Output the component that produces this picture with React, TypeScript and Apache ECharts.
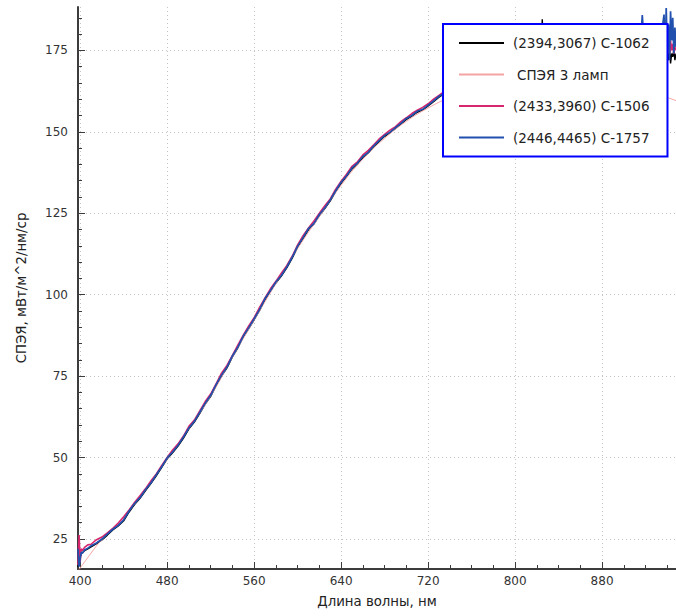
import React, { useEffect, useRef } from 'react';
import * as echarts from 'echarts';

// Wavelengths (nm) shared by the three measured series
const wavelengths = [
  398, 399, 400, 401, 402, 404, 407, 410,
  415, 420, 425, 430, 435, 440, 445, 450, 455, 460,
  465, 470, 475, 480, 485, 490, 495, 500, 505, 510,
  515, 520, 525, 530, 535, 540, 545, 550, 555, 560,
  565, 570, 575, 580, 585, 590, 595, 600, 605, 610,
  615, 620, 625, 630, 635, 640, 645, 650, 655, 660,
  665, 670, 675, 680, 685, 690, 695, 700, 705, 710,
  715, 720, 725, 730, 735, 740,
  750, 760, 770, 780, 790, 800, 810, 820,
  824, 825, 826,
  830, 840, 850, 860, 870, 880, 890, 900, 910,
  914, 916, 917, 918, 920,
  925, 930, 935,
  937, 938, 939, 940, 941, 942, 943, 944, 945, 946, 947, 948,
];

const seriesC1062 = [
  16.5, 19, 20, 20.6, 20.8, 21.4, 22, 22.6,
  23.6, 24.7, 26.2, 27.8, 29.0, 30.6, 33.3, 35.6, 37.5, 39.8,
  42.0, 44.4, 47.0, 49.6, 51.5, 53.5, 56.0, 58.8, 60.9, 63.6,
  66.4, 68.8, 72.1, 75.0, 77.5, 80.9, 83.7, 87.0, 89.6, 92.3,
  95.2, 98.5, 101.1, 103.6, 105.7, 108.2, 111.2, 114.6, 117.2, 120.0,
  121.7, 124.3, 126.4, 128.8, 131.6, 134.2, 136.3, 138.6, 140.1, 142.1,
  143.5, 145.4, 147.0, 148.6, 149.7, 151.0, 152.4, 153.8, 154.8, 156.0,
  156.7, 157.9, 159.2, 160.6, 161.7, 162.7,
  164.4, 166.1, 167.7, 169.1, 170.5, 171.8, 173.0, 174.2,
  174.7, 184.5, 174.9,
  175.1, 176.0, 176.8, 177.6, 178.1, 178.7, 179.1, 179.3, 179.7,
  179.9, 180.0, 180.1, 180.1, 179.9,
  180.2, 180.5, 180.7,
  172, 175, 171, 174, 172, 176, 171, 174, 173, 175, 172, 174,
];

const seriesC1506 = [
  17, 26.2, 18, 22, 21.5, 22.4, 23.2, 23.4,
  24.8, 25.6, 26.9, 28.3, 29.9, 31.8, 33.9, 36.2, 38.3, 40.4,
  42.8, 45.0, 47.6, 50.0, 52.3, 54.2, 56.6, 59.6, 61.5, 64.3,
  67.2, 69.5, 72.6, 75.9, 78.3, 81.4, 84.5, 87.6, 90.4, 92.9,
  96.1, 99.0, 101.8, 104.1, 106.6, 108.9, 111.8, 115.3, 118.1, 120.5,
  122.6, 125.0, 127.3, 129.4, 132.4, 134.8, 137.0, 139.4, 140.8, 142.9,
  144.3, 146.0, 147.8, 149.2, 150.5, 151.6, 153.1, 154.3, 155.6, 156.6,
  157.5, 158.6, 160.0, 161.2, 162.4, 163.3,
  165.1, 166.8, 168.5, 169.8, 171.2, 172.6, 173.7, 174.9,
  175.3, 175.4, 175.6,
  175.8, 176.7, 177.5, 178.3, 178.9, 179.4, 179.8, 180.1, 180.4,
  180.6, 180.7, 180.8, 180.8, 180.6,
  180.9, 181.2, 181.4,
  177, 174, 178, 175, 177, 174, 178, 175, 177, 174, 176, 175,
];

const seriesC1757 = [
  22, 16.5, 19, 21, 20.6, 21.6, 22.2, 22.9,
  23.8, 25.0, 26.5, 28.0, 29.2, 30.9, 33.6, 35.9, 37.7, 40.1,
  42.2, 44.7, 47.2, 49.9, 51.7, 53.8, 56.3, 59.1, 61.1, 63.9,
  66.7, 69.1, 72.4, 75.3, 77.8, 81.2, 83.9, 87.3, 89.9, 92.6,
  95.5, 98.8, 101.3, 103.9, 105.9, 108.5, 111.5, 114.9, 117.5, 120.3,
  121.9, 124.6, 126.7, 129.1, 131.9, 134.5, 136.5, 138.9, 140.4, 142.4,
  143.7, 145.7, 147.3, 148.9, 149.9, 151.3, 152.6, 154.1, 155.0, 156.3,
  156.9, 158.2, 159.5, 160.9, 161.9, 163.0,
  164.7, 166.4, 168.0, 169.4, 170.8, 172.1, 173.3, 174.5,
  174.9, 175.0, 175.1,
  175.4, 176.3, 177.1, 177.9, 178.4, 179.0, 179.4, 179.6, 180.0,
  180.2, 180.3, 185.8, 180.4, 180.2,
  180.5, 180.8, 181.0,
  186, 172, 188, 175, 183, 172, 187, 178, 185, 174, 182, 176,
];

// Reference curve "СПЭЯ 3 ламп"
const refWavelengths = [
  398, 405, 410, 415, 420, 430, 440, 460, 480, 500, 520, 540, 560, 580,
  600, 620, 640, 660, 680, 700, 720, 740, 760, 780, 800, 820, 840, 860,
  880, 900, 920, 940, 950,
];
const refValues = [
  15.2, 18.4, 20.7, 22.9, 24.8, 28.2, 31.8, 40.0, 49.6, 58.9, 68.9, 80.8, 92.2, 103.4,
  114.2, 124.0, 133.6, 141.6, 148.0, 153.2, 157.3, 160.5, 162.8, 164.5, 165.6, 166.2, 166.4, 166.1,
  165.3, 164.1, 162.4, 160.5, 159.3,
];

const seriesNames = [
  '(2394,3067) C-1062',
  'СПЭЯ 3 ламп',
  '(2433,3960) C-1506',
  '(2446,4465) C-1757',
];
const seriesColors = ['#000000', '#f4a3a3', '#d8266e', '#2150ae'];

const xTickValues = [400, 480, 560, 640, 720, 800, 880];
const xMinorValues = [420, 440, 460, 500, 520, 540, 580, 600, 620, 660, 680, 700, 740, 760, 780, 820, 840, 860, 900, 920, 940];
const yTickValues = [25, 50, 75, 100, 125, 150, 175];
const yMinorValues = [20, 30, 35, 40, 45, 55, 60, 65, 70, 80, 85, 90, 95, 105, 110, 115, 120, 130, 135, 140, 145, 155, 160, 165, 170, 180, 185];

const FONT = 'DejaVu Sans';
const AXIS_COLOR = '#3c3c3c';
const LEGEND_FONT = 13.5;

export default function App() {
  const ref = useRef<HTMLDivElement>(null);

  useEffect(() => {
    if (!ref.current) return;
    const chart = echarts.init(ref.current, undefined, { renderer: 'svg' });
    const pair = (xs: number[], ys: number[]) => xs.map((x, i) => [x, ys[i]]);
    const measured = [seriesC1062, null, seriesC1506, seriesC1757];
    const widths = [1.4, 1, 1.6, 1.7];

    const series = seriesNames.map((name, i) => ({
      name,
      type: 'line',
      data: i === 1 ? pair(refWavelengths, refValues) : pair(wavelengths, measured[i] as number[]),
      smooth: i === 1,
      showSymbol: false,
      symbol: 'none',
      clip: true,
      color: seriesColors[i],
      lineStyle: { color: seriesColors[i], width: widths[i] },
      itemStyle: { color: seriesColors[i] },
      z: 1,
      zlevel: 0,
    }));

    const minorAxisCommon = {
      type: 'value',
      axisLine: { show: false },
      axisLabel: { show: false },
      splitLine: { show: false },
    };

    chart.setOption({
      animation: false,
      backgroundColor: '#ffffff',
      grid: { left: 78, right: 0, top: 7, bottom: 47, containLabel: false },
      xAxis: [
        {
          type: 'value',
          min: 398,
          max: 948,
          position: 'bottom',
          name: 'Длина волны, нм',
          nameLocation: 'middle',
          nameGap: 26,
          nameTextStyle: { fontFamily: FONT, fontSize: 13.3, color: '#222' },
          axisLine: { show: true, onZero: false, lineStyle: { color: AXIS_COLOR, width: 2 } },
          axisTick: { show: true, inside: true, length: 7, customValues: xTickValues, lineStyle: { color: AXIS_COLOR, width: 1 } },
          axisLabel: { customValues: xTickValues, margin: 6, color: '#333', fontFamily: FONT, fontSize: 12 },
          splitLine: { show: true, lineStyle: { color: '#c4c4c4', type: [1, 3], width: 1 } },
        },
        {
          ...minorAxisCommon,
          min: 398,
          max: 948,
          position: 'bottom',
          axisTick: { show: true, inside: true, length: 4, customValues: xMinorValues, lineStyle: { color: AXIS_COLOR, width: 1 } },
        },
      ],
      yAxis: [
        {
          type: 'value',
          min: 15.8,
          max: 188.3,
          position: 'left',
          name: 'СПЭЯ, мВт/м^2/нм/ср',
          nameLocation: 'middle',
          nameGap: 50,
          nameTextStyle: { fontFamily: FONT, fontSize: 13.3, color: '#222' },
          axisLine: { show: true, onZero: false, lineStyle: { color: AXIS_COLOR, width: 2 } },
          axisTick: { show: true, inside: true, length: 7, customValues: yTickValues, lineStyle: { color: AXIS_COLOR, width: 1 } },
          axisLabel: { customValues: yTickValues, margin: 10, color: '#333', fontFamily: FONT, fontSize: 12 },
          splitLine: { show: true, lineStyle: { color: '#c4c4c4', type: [1, 3], width: 1 } },
        },
        {
          ...minorAxisCommon,
          min: 15.8,
          max: 188.3,
          position: 'left',
          axisTick: { show: true, inside: true, length: 4, customValues: yMinorValues, lineStyle: { color: AXIS_COLOR, width: 1 } },
        },
      ],
      legend: {
        orient: 'vertical',
        left: 443,
        top: 24,
        z: 20,
        zlevel: 0,
        padding: [12, 18, 12, 16],
        itemGap: 17.5,
        itemWidth: 45,
        itemHeight: 2,
        icon: 'rect',
        backgroundColor: '#ffffff',
        borderColor: '#0000ff',
        borderWidth: 2,
        borderRadius: 0,
        data: seriesNames,
        formatter: (name: string) => (name === seriesNames[1] ? '{s|' + name + '}' : '{a|' + name + '}'),
        textStyle: {
          fontFamily: FONT,
          fontSize: LEGEND_FONT,
          color: '#222',
          rich: {
            a: { fontFamily: FONT, fontSize: LEGEND_FONT, color: '#222', padding: [0, 0, 0, 4] },
            s: { fontFamily: FONT, fontSize: LEGEND_FONT, color: '#222', padding: [0, 0, 0, 8] },
          },
        },
      },
      series,
    });

    return () => chart.dispose();
  }, []);

  return (
    <div
      ref={ref}
      style={{ position: 'fixed', left: 0, top: 0, width: 676, height: 616, background: '#fff' }}
    />
  );
}
